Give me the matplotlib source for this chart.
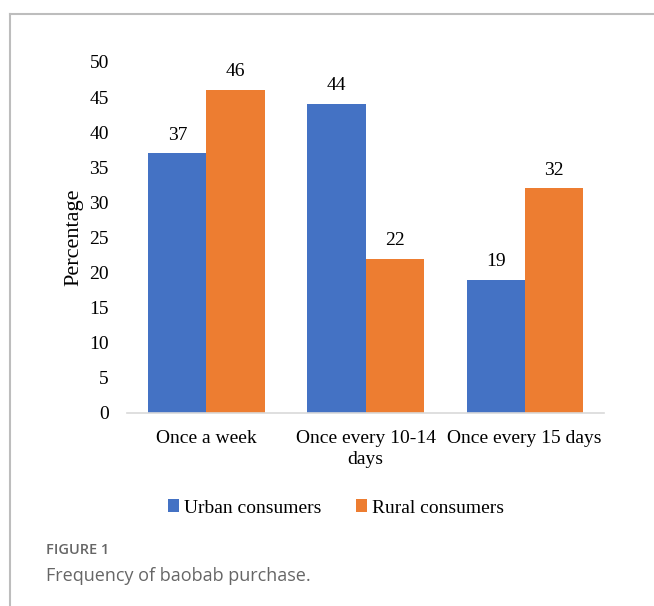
import numpy as np
import matplotlib.pyplot as plt
from matplotlib.lines import Line2D

categories = ['Once a week', 'Once every 10-14\ndays', 'Once every 15 days']
urban = [37, 44, 19]
rural = [46, 22, 32]
series_names = ['Urban consumers', 'Rural consumers']

blue = '#4472C4'
orange = '#ED7D31'

plt.rcParams['font.family'] = ['Liberation Serif', 'DejaVu Serif']

fig = plt.figure(figsize=(6.54, 6.06), dpi=100)
ax = fig.add_axes([0.194, 0.3185, 0.730, 0.5792])

x = np.arange(len(categories))
w = 0.365
b1 = ax.bar(x - w / 2, urban, w, color=blue, label=series_names[0])
b2 = ax.bar(x + w / 2, rural, w, color=orange, label=series_names[1])

for bars in (b1, b2):
    for rect in bars:
        h = rect.get_height()
        ax.annotate(f'{h:.0f}', (rect.get_x() + rect.get_width() / 2, h),
                    xytext=(0, 7), textcoords='offset points',
                    ha='center', va='bottom', fontsize=14)

ax.set_xlim(-0.5, 2.5)
ax.set_ylim(0, 50)
ax.set_yticks(range(0, 51, 5))
ax.set_xticks(x)
ax.set_xticklabels(categories, linespacing=1.3)
ax.tick_params(axis='both', length=0, labelsize=14)
ax.tick_params(axis='y', pad=13)
ax.tick_params(axis='x', pad=12)
for s in ['top', 'right', 'left']:
    ax.spines[s].set_visible(False)
ax.spines['bottom'].set_color('#D9D9D9')
ax.spines['bottom'].set_linewidth(1.2)
ax.set_ylabel('Percentage', fontsize=16, labelpad=4)

fig.legend(handles=[b1, b2], labels=series_names, loc='center',
           bbox_to_anchor=(336 / 654, 1 - 508 / 606), ncol=2, frameon=False,
           fontsize=14, handlelength=0.55, handleheight=0.6, handletextpad=0.25,
           columnspacing=1.8)

# frame lines (top and left)
fig.add_artist(Line2D([10 / 654, 1], [1 - 14 / 606, 1 - 14 / 606],
                      color='#BDBDBD', lw=1.5, transform=fig.transFigure))
fig.add_artist(Line2D([10 / 654, 10 / 654], [0, 1 - 14 / 606],
                      color='#BDBDBD', lw=1.5, transform=fig.transFigure))

fig.text(46 / 654, 1 - 550 / 606, 'FIGURE 1', family='Open Sans',
         fontsize=10.5, color='#666666', fontweight='semibold', va='center')
fig.text(46 / 654, 1 - 576 / 606, 'Frequency of baobab purchase.',
         family='Open Sans', fontsize=13, color='#666666', va='center')

fig.savefig('out.png', dpi=100)
